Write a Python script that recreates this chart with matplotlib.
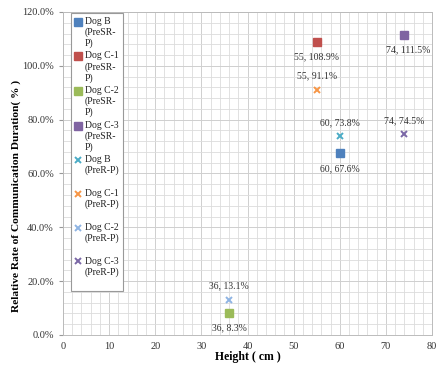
import numpy as np
import matplotlib
matplotlib.use('Agg')
import matplotlib.pyplot as plt
from matplotlib.ticker import MultipleLocator, FuncFormatter
from matplotlib.legend_handler import HandlerLine2D

plt.rcParams['font.family'] = ['Liberation Serif', 'DejaVu Serif']

# data
dogs = ['Dog B', 'Dog C-1', 'Dog C-2', 'Dog C-3']
height_cm = [60, 55, 36, 74]
presr_rate = [67.6, 108.9, 8.3, 111.5]
prer_rate = [73.8, 91.1, 13.1, 74.5]

presr_colors = ['#4F81BD', '#C0504D', '#9BBB59', '#8064A2']
prer_colors = ['#4BACC6', '#F79646', '#8EB4E3', '#7B68A6']

# label offsets in points (dx, dy) for each point
presr_off = [(0, -11), (0, -11), (0, -11), (3, -11)]
prer_off = [(0, 10), (0, 10), (0, 10), (0, 10)]


class TopHandler(HandlerLine2D):
    # put the marker next to the first line of a multi-line label
    def create_artists(self, legend, orig_handle, xdescent, ydescent,
                       width, height, fontsize, trans):
        arts = super().create_artists(legend, orig_handle, xdescent, ydescent,
                                      width, height, fontsize, trans)
        for a in arts:
            a.set_ydata(np.asarray(a.get_ydata()) + 1.1 * fontsize)
        return arts


fig = plt.figure(figsize=(4.42, 3.67), dpi=100)
ax = fig.add_axes([63/442, 1-335/367, (432-63)/442, (335-12)/367])

handles = []
for d, x, y, c in zip(dogs, height_cm, presr_rate, presr_colors):
    h, = ax.plot([x], [y/100], ls='none', marker='s', ms=5.8, color=c,
                 mec=c, label=d + '\n(PreSR-\nP)', zorder=4)
    handles.append(h)
for d, x, y, c in zip(dogs, height_cm, prer_rate, prer_colors):
    h, = ax.plot([x], [y/100], ls='none', marker='x', ms=4.5, mew=1.4,
                 color=c, label=d + '\n(PreR-P)\n ', zorder=4)
    handles.append(h)

for x, y, o in zip(height_cm, presr_rate, presr_off):
    ax.annotate('%d, %.1f%%' % (x, y), (x, y/100), xytext=o,
                textcoords='offset points', ha='center', va='center',
                fontsize=7, color='#333333')
for x, y, o in zip(height_cm, prer_rate, prer_off):
    ax.annotate('%d, %.1f%%' % (x, y), (x, y/100), xytext=o,
                textcoords='offset points', ha='center', va='center',
                fontsize=7, color='#333333')

ax.set_xlim(0, 80)
ax.set_ylim(0, 1.2)
ax.xaxis.set_major_locator(MultipleLocator(10))
ax.xaxis.set_minor_locator(MultipleLocator(2))
ax.yaxis.set_major_locator(MultipleLocator(0.2))
ax.yaxis.set_minor_locator(MultipleLocator(0.04))
ax.yaxis.set_major_formatter(FuncFormatter(lambda v, p: '%.1f%%' % (v*100)))
ax.grid(which='major', color='#cfcfcf', lw=0.7)
ax.grid(which='minor', color='#dcdcdc', lw=0.6)
ax.set_axisbelow(True)
ax.tick_params(which='major', labelsize=7.5, length=3, color='#999999',
               labelcolor='#333333')
ax.tick_params(which='minor', length=0)
ax.tick_params(axis='x', length=0, pad=5)
for s in ax.spines.values():
    s.set_color('#bbbbbb')
    s.set_linewidth(0.7)

ax.set_xlabel('Height ( cm )', fontsize=8.5, fontweight='bold', labelpad=0)
ax.set_ylabel('Relative Rate of Communication Duration( % )', fontsize=8.2,
              fontweight='bold')
ax.yaxis.set_label_coords(-0.114, 0.43)

hmap = {h: TopHandler() for h in handles}
leg = ax.legend(handles=handles, handler_map=hmap, loc='upper left',
                bbox_to_anchor=(71/442, 1-13/367), bbox_transform=fig.transFigure,
                fontsize=7, fancybox=False, edgecolor='#999999', framealpha=1,
                handlelength=0.7, handletextpad=0.3, borderpad=0.4,
                labelspacing=0.35, borderaxespad=0)
leg.get_frame().set_linewidth(0.8)
for t in leg.get_texts():
    t.set_color('#222222')

plt.savefig('out.png', dpi=100)
plt.close('all')
